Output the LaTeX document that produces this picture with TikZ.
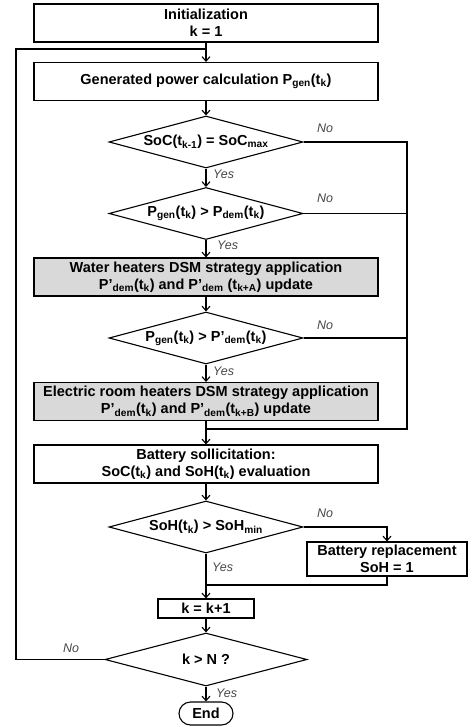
\documentclass[tikz,border=0pt]{standalone}
\usepackage{fontspec}
\setmainfont{Liberation Sans}
\usetikzlibrary{arrows.meta,shapes.geometric,shapes.misc}
\definecolor{boxgray}{RGB}{217,217,217}
\definecolor{lblgray}{RGB}{70,70,70}
\begin{document}
\begin{tikzpicture}[x=1pt,y=-1pt,
  every node/.style={font=\fontsize{14.5}{17}\selectfont\bfseries},
  proc/.style={draw, line width=1.1pt, rectangle, align=center, inner sep=0pt, minimum width=344pt, minimum height=38pt},
  graybox/.style={proc, fill=boxgray},
  dec/.style={draw, line width=1.1pt, diamond, aspect=3.7, inner sep=0pt, minimum width=194pt, minimum height=52pt},
  lbl/.style={font=\fontsize{12.5}{14}\selectfont\itshape, text=lblgray, inner sep=0pt},
  conn/.style={line width=1.1pt},
  arr/.style={conn, -{Straight Barb[length=4.5pt,width=8pt]}}
]
\useasboundingbox (0,0) rectangle (473,727);
\newcommand{\sub}[1]{\textsubscript{#1}}

\node[proc] (init) at (206,23) {Initialization\\k = 1};
\node[proc] (gen) at (206,81.5) {Generated power calculation P\sub{gen}(t\sub{k})};
\node[dec] (d1) at (206,142) {SoC(t\sub{k-1}) = SoC\sub{max}};
\node[dec] (d2) at (206,213.5) {P\sub{gen}(t\sub{k}) > P\sub{dem}(t\sub{k})};
\node[graybox] (water) at (206,277) {Water heaters DSM strategy application\\P’\sub{dem}(t\sub{k}) and P’\sub{dem} (t\sub{k+A}) update};
\node[dec] (d3) at (206,338) {P\sub{gen}(t\sub{k}) > P’\sub{dem}(t\sub{k})};
\node[graybox] (elec) at (206,401.5) {Electric room heaters DSM strategy application\\P’\sub{dem}(t\sub{k}) and P’\sub{dem}(t\sub{k+B}) update};
\node[proc] (batt) at (206,464) {Battery sollicitation:\\SoC(t\sub{k}) and SoH(t\sub{k}) evaluation};
\node[dec] (d4) at (206,527) {SoH(t\sub{k}) > SoH\sub{min}};
\node[proc, minimum width=160pt, minimum height=34pt] (repl) at (387,559) {Battery replacement\\SoH = 1};
\node[proc, minimum width=96pt, minimum height=19pt] (kbox) at (206,608.5) {k = k+1};
\node[dec, minimum width=202pt, minimum height=53pt] (d5) at (206,659.5) {k > N ?};
\node[draw, line width=1.1pt, rounded rectangle, inner sep=0pt, minimum width=54pt, minimum height=23pt] (endn) at (206,713.5) {End};

\coordinate (lt) at (16,49);
\coordinate (lb) at (16,659.5);
\coordinate (jt) at (206,49);
\coordinate (rt) at (407,142);
\coordinate (rb) at (407,429);
\coordinate (mj) at (206,429);
\coordinate (mk) at (206,585);

\draw[arr] (init) -- (gen);
\draw[arr] (gen) -- (d1);
\draw[arr] (d1) -- (d2);
\draw[arr] (d2) -- (water);
\draw[arr] (water) -- (d3);
\draw[arr] (d3) -- (elec);
\draw[arr] (elec) -- (batt);
\draw[arr] (batt) -- (d4);
\draw[arr] (d4) -- (kbox);
\draw[arr] (kbox) -- (d5);
\draw[arr] (d5) -- (endn);

\draw[conn] (d1.east) -- (rt) -- (rb) -- (mj);
\draw[conn] (d2.east) -- (d2.east -| rt);
\draw[conn] (d3.east) -- (d3.east -| rt);
\draw[arr] (d4.east) -| (repl.north);
\draw[conn] (repl.south) |- (mk);
\draw[conn] (d5.west) -- (lb) -- (lt) -- (jt);

\node[lbl, anchor=west] (n1) at (317,128) {No};
\node[lbl, anchor=west] (y1) at (213,174.5) {Yes};
\node[lbl, anchor=west] (n2) at (317,198.5) {No};
\node[lbl, anchor=west] (y2) at (217,245) {Yes};
\node[lbl, anchor=west] (n3) at (317,325) {No};
\node[lbl, anchor=west] (y3) at (213,371) {Yes};
\node[lbl, anchor=west] (n4) at (317,513) {No};
\node[lbl, anchor=west] (y4) at (212,567) {Yes};
\node[lbl, anchor=west] (n5) at (63,648) {No};
\node[lbl, anchor=west] (y5) at (216,693) {Yes};
\end{tikzpicture}
\end{document}
